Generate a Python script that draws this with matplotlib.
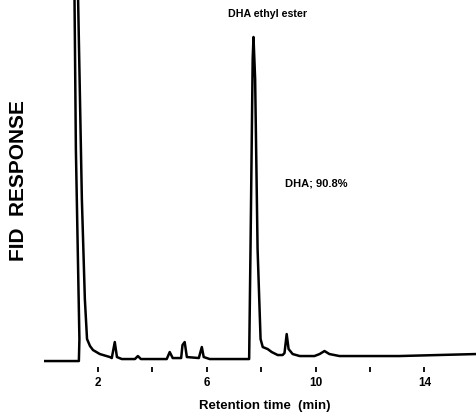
import numpy as np
import matplotlib
matplotlib.use("Agg")
import matplotlib.pyplot as plt

plt.rcParams['font.family'] = ['Liberation Sans', 'DejaVu Sans']

# trace: retention time (min), detector response (arb.)
time_min = [0.00, 1.30, 1.32, 1.19, 1.12, 1.23, 1.41, 1.52, 1.60, 1.71, 1.82, 2.07, 2.44,
            2.51, 2.62, 2.70, 2.88, 3.36, 3.47, 3.58, 4.28, 4.53, 4.64, 4.75,
            5.06, 5.11, 5.19, 5.27, 5.71, 5.82, 5.89, 6.11, 7.50,
            7.56, 7.61, 7.69, 7.72, 7.78, 7.87, 7.98, 8.06, 8.24, 8.39, 8.61, 8.79,
            8.86, 8.94, 9.01, 9.16, 9.42, 9.96, 10.15, 10.33, 10.51, 10.88, 13.08, 15.90]
response = [-2, -2, 20, 210, 420, 420, 160, 60, 20, 13, 9, 5, 2,
            1, 17, 2, 0, 0, 3, 0, 0, 0, 7, 1,
            1, 14, 17, 2, 1, 12, 2, 0, 0,
            0, 110, 300, 322, 280, 110, 20, 12, 10, 7, 4, 4,
            6, 25, 10, 5, 3, 3, 5, 8, 5, 3, 3, 5]

major_ticks = [2, 6, 10, 14]
minor_ticks = [4, 8, 12]

fig = plt.figure(figsize=(4.76, 4.14), dpi=100)
ax = fig.add_axes([0.0914, 0.111, 0.9086, 0.889])

ax.plot(time_min, response, color='black', linewidth=1.8, solid_joinstyle='round')

ax.set_xlim(0, 15.9)
ax.set_ylim(-8, 360)

for s in ax.spines.values():
    s.set_visible(False)
ax.set_yticks([])
ax.set_xticks(major_ticks)
ax.set_xticks(minor_ticks, minor=True)
ax.set_xticklabels([str(t) for t in major_ticks], fontweight='bold', fontsize=8.5)
ax.tick_params(axis='x', which='both', direction='out', length=3.5, width=1.3, pad=3)

ax.set_xlabel('Retention time  (min)', fontsize=9.5, fontweight='bold')
ax.xaxis.set_label_coords(0.511, -0.088)
fig.text(0.038, 0.565, 'FID  RESPONSE', rotation=90, fontsize=15,
         fontweight='bold', ha='center', va='center')

ax.text(8.24, 346, 'DHA ethyl ester', fontsize=7.7, fontweight='bold', ha='center', va='center')
ax.text(8.86, 177, 'DHA; 90.8%', fontsize=8, fontweight='bold', ha='left', va='center')

fig.savefig('out.png', dpi=100)
